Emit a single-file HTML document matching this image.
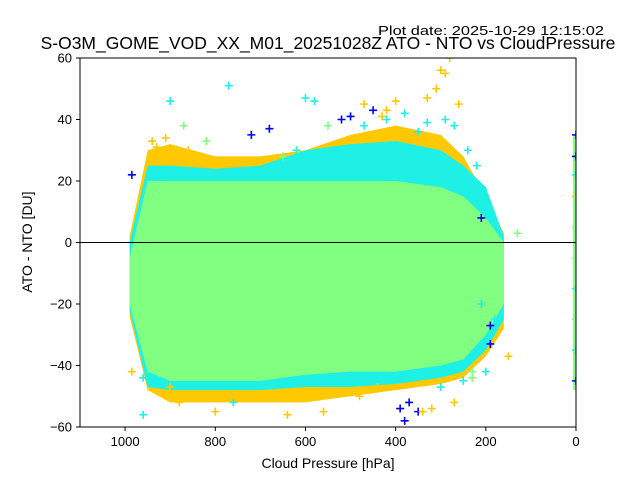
<!DOCTYPE html>
<html><head><meta charset="utf-8"><style>
body{margin:0;background:#fff;}
svg{display:block;font-family:"Liberation Sans","DejaVu Sans",sans-serif;}
</style></head><body>
<svg id="chart" width="640" height="480" viewBox="0 0 640 480" xmlns="http://www.w3.org/2000/svg">
<rect width="640" height="480" fill="#fff"/>
<text x="378" y="35" font-size="13" textLength="226" lengthAdjust="spacingAndGlyphs">Plot date: 2025-10-29 12:15:02</text>
<text x="328" y="49" font-size="17.5" text-anchor="middle">S-O3M_GOME_VOD_XX_M01_20251028Z ATO - NTO vs CloudPressure</text>
<defs><clipPath id="clip"><rect x="80" y="58" width="496" height="369"/></clipPath></defs>
<g id="plot" clip-path="url(#clip)"></g>
<g id="axes"></g>
<text x="328" y="468" font-size="14" text-anchor="middle">Cloud Pressure [hPa]</text>
<text transform="translate(32,242) rotate(-90)" font-size="14" text-anchor="middle">ATO - NTO [DU]</text>
</svg>
<script>
const pressureBins=[990,950,900,800,700,600,500,400,300,250,200,160];
const yellowTop=[2,30,32,28,28,30,35,38,35,28,15,3];
const yellowBottom=[-24,-48,-52,-52,-52,-52,-50,-48,-46,-44,-37,-28];
const cyanTop=[0,25,25,24,25,30,32,33,30,25,18,2];
const cyanBottom=[-22,-47,-48,-48,-48,-47,-47,-46,-44,-42,-35,-25];
const greenTop=[-5,20,20,20,20,20,20,20,18,15,8,0];
const greenBottom=[-20,-42,-45,-45,-45,-43,-42,-42,-40,-38,-30,-20];
const outlierP=[985,900,870,820,770,720,680,650,620,600,580,550,520,500,470,450,430,420,400,390,370,350,330,310,300,290,280,260,240,210,190,170,130,985,960,880,800,760,640,560,480,440,380,340,320,270,230,200,150,940,930,920,910,890,860,470,420,380,350,330,290,270,240,220,210,190,180,960,900,700,620,520,460,300,250,230];
const outlierV=[22,46,38,33,51,35,37,28,30,47,46,38,40,41,45,43,41,43,46,-54,-52,-55,47,50,56,55,60,45,20,8,-27,-20,3,-42,-56,-52,-55,-52,-56,-55,-50,-47,-58,-55,-54,-52,-44,-42,-37,33,31,29,34,27,30,38,40,42,36,39,40,38,30,25,-20,-33,-25,-44,-47,-50,-49,-49,-48,-47,-45,-42];
const outlierColor=[3,1,2,2,1,3,3,2,1,1,1,2,3,3,0,3,0,0,0,3,3,3,0,0,0,0,0,0,1,3,3,2,2,0,1,0,0,1,0,0,0,0,3,0,0,0,2,1,0,0,0,0,0,0,0,1,1,1,1,1,1,1,1,1,1,3,1,1,0,0,0,0,0,1,1,2];
const edgeColumnV=[35,28,22,15,5,-5,-15,-25,-35,-45];
const edgeColumnColor=[3,3,1,0,2,2,1,2,1,3];
const xTicks=[1000,800,600,400,200,0];
const yTicks=[60,40,20,0,-20,-40,-60];
const palette=['#ffc800','#1ef0e6','#80ff80','#0000ff'];
const NS='http://www.w3.org/2000/svg';
const X=p=>576-p*(496/1100);
const Y=v=>242.5-v*(369/120);
const plot=document.getElementById('plot'),axes=document.getElementById('axes');
function mk(tag,attrs,parent){const e=document.createElementNS(NS,tag);for(const k in attrs)e.setAttribute(k,attrs[k]);parent.appendChild(e);return e;}
function band(top,bot,fill,name){
  let pts=pressureBins.map((p,i)=>X(p)+','+Y(top[i]));
  for(let i=pressureBins.length-1;i>=0;i--)pts.push(X(pressureBins[i])+','+Y(bot[i]));
  const e=mk('polygon',{points:pts.join(' '),fill:fill},plot);
  
  
}
band(yellowTop,yellowBottom,'#ffc800','yellow-cloud');
band(cyanTop,cyanBottom,'#1ef0e6','cyan-cloud');
band(greenTop,greenBottom,'#80ff80','green-cloud');
function plus(p,v,c,name){
  const x=X(p),y=Y(v);
  const e=mk('path',{d:`M${x-4},${y}H${x+4}M${x},${y-4}V${y+4}`,stroke:palette[c],'stroke-width':1.6},plot);
  
  
}
outlierP.forEach((p,i)=>plus(p,outlierV[i],outlierColor[i],'outlier-point'));
const col=mk('rect',{x:X(0)-3,y:Y(35),width:6,height:Y(-48)-Y(35),fill:'#80ff80'},plot);


edgeColumnV.forEach((v,i)=>plus(0,v,edgeColumnColor[i],'zero-pressure-point'));
const zl=mk('line',{x1:80,x2:576,y1:Y(0),y2:Y(0),stroke:'#000','stroke-width':1},axes);


const fr=mk('rect',{x:80,y:58,width:496,height:369,fill:'none',stroke:'#000','stroke-width':1},axes);


xTicks.forEach(t=>{
  const x=X(t);
  const l=mk('line',{x1:x,x2:x,y1:427,y2:431,stroke:'#000'},axes);
  
  
  const tx=mk('text',{x:x,y:446,'font-size':13,'text-anchor':'middle'},axes);tx.textContent=t;
  
  
});
yTicks.forEach(t=>{
  const y=Y(t);
  const l=mk('line',{x1:76,x2:80,y1:y,y2:y,stroke:'#000'},axes);
  
  
  const tx=mk('text',{x:72,y:y+4.5,'font-size':13,'text-anchor':'end'},axes);tx.textContent=t<0?'\u2212'+(-t):t;
  
  
});
</script>
</body></html>
